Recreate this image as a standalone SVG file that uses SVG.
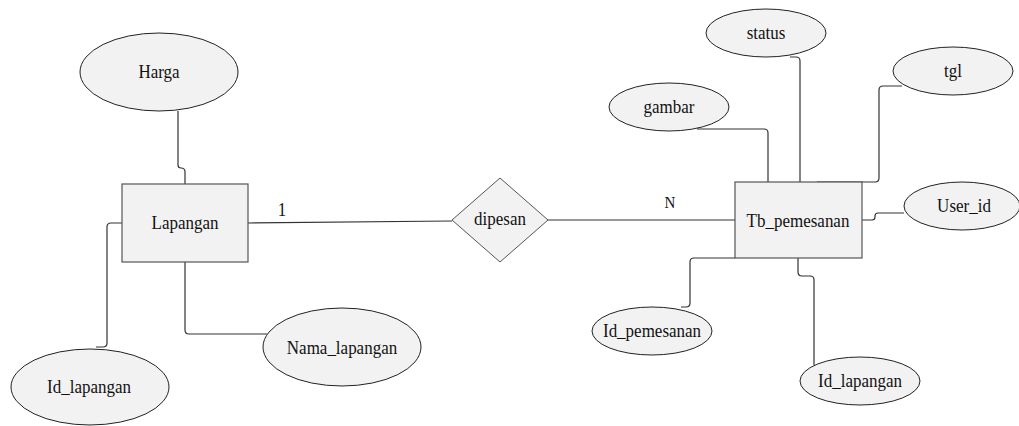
<svg xmlns="http://www.w3.org/2000/svg" width="1019" height="426" viewBox="0 0 1019 426">
  <style>
    .ent { fill: #f2f2f2; stroke: #555; stroke-width: 1.2; }
    .attr { fill: #f2f2f2; stroke: #222; stroke-width: 1; }
    .rel { fill: #f2f2f2; stroke: #555; stroke-width: 1; }
    .conn { fill: none; stroke: #333; stroke-width: 1.2; }
    text { font-family: 'Liberation Serif', 'DejaVu Serif', serif; fill: #111; text-anchor: middle; }
    .lbl { font-size: 17px; }
    .card { font-size: 15px; }
  </style>
  <rect width="1019" height="426" fill="#ffffff"/>

  <!-- connectors -->
  <g id="connectors">
    <path class="conn" d="M178 111 V165 Q178 168 181 168 Q185 168 185 172 V184"/>
    <path class="conn" d="M122 223 H111 Q107 223 107 227 V343 Q107 347 103 347 H96"/>
    <path class="conn" d="M185 262 V330 Q185 334 189 334 H267"/>
    <path class="conn" d="M248 223 L452 221"/>
    <path class="conn" d="M548 220 H735"/>
    <path class="conn" d="M697 129 H764 Q768 129 768 133 V182"/>
    <path class="conn" d="M790 57 H796 Q800 57 800 61 V182"/>
    <path class="conn" d="M902 86 H883 Q879 86 879 90 V178 Q879 182 875 182 H817"/>
    <path class="conn" d="M862 220 H872 Q875 220 875 217 V216 Q875 213 878 213 H904"/>
    <path class="conn" d="M735 258 H694 Q690 258 690 262 V303 Q690 307 686 307 H681"/>
    <path class="conn" d="M798 258 V272 Q798 276 802 276 H810 Q814 276 814 280 V365"/>
  </g>

  <!-- cardinalities (glyphs drawn slightly tall) -->
  <text class="card" font-size="17" style="font-size:17px" transform="translate(282 216) scale(1 1.15)">1</text>
  <text class="card" transform="translate(670 208) scale(1 1.15)">N</text>

  <g id="lapangan">
    <rect class="ent" x="122" y="184" width="126" height="78"/>
    <text class="lbl" transform="translate(185 229) scale(1 1.15)">Lapangan</text>
  </g>

  <g id="dipesan">
    <polygon class="rel" points="500,178 548,220 500,262 452,220"/>
    <text class="lbl" transform="translate(500 225) scale(1 1.15)">dipesan</text>
  </g>

  <g id="tb_pemesanan">
    <rect class="ent" x="735" y="182" width="127" height="76"/>
    <text class="lbl" transform="translate(798 227) scale(1 1.15)">Tb_pemesanan</text>
  </g>

  <g id="harga">
    <ellipse class="attr" cx="159" cy="72" rx="79" ry="39"/>
    <text class="lbl" transform="translate(159 78) scale(1 1.15)">Harga</text>
  </g>

  <g id="id_lapangan_1">
    <ellipse class="attr" cx="90" cy="387" rx="79" ry="38"/>
    <text class="lbl" transform="translate(89 393) scale(1 1.15)">Id_lapangan</text>
  </g>

  <g id="nama_lapangan">
    <ellipse class="attr" cx="342" cy="347" rx="79" ry="39"/>
    <text class="lbl" transform="translate(342 354) scale(1 1.15)">Nama_lapangan</text>
  </g>

  <g id="status">
    <ellipse class="attr" cx="766" cy="33" rx="60" ry="24"/>
    <text class="lbl" transform="translate(766 39) scale(1 1.15)">status</text>
  </g>

  <g id="tgl">
    <ellipse class="attr" cx="953" cy="71" rx="60" ry="24"/>
    <text class="lbl" transform="translate(953 77) scale(1 1.15)">tgl</text>
  </g>

  <g id="gambar">
    <ellipse class="attr" cx="669" cy="107" rx="60" ry="24"/>
    <text class="lbl" transform="translate(669 113) scale(1 1.15)">gambar</text>
  </g>

  <g id="user_id">
    <ellipse class="attr" cx="962" cy="206" rx="58" ry="24"/>
    <text class="lbl" transform="translate(964 212) scale(1 1.15)">User_id</text>
  </g>

  <g id="id_pemesanan">
    <ellipse class="attr" cx="652" cy="331" rx="60" ry="24"/>
    <text class="lbl" transform="translate(652 337) scale(1 1.15)">Id_pemesanan</text>
  </g>

  <g id="id_lapangan_2">
    <ellipse class="attr" cx="860" cy="381" rx="60" ry="24"/>
    <text class="lbl" transform="translate(860 387) scale(1 1.15)">Id_lapangan</text>
  </g>
</svg>
